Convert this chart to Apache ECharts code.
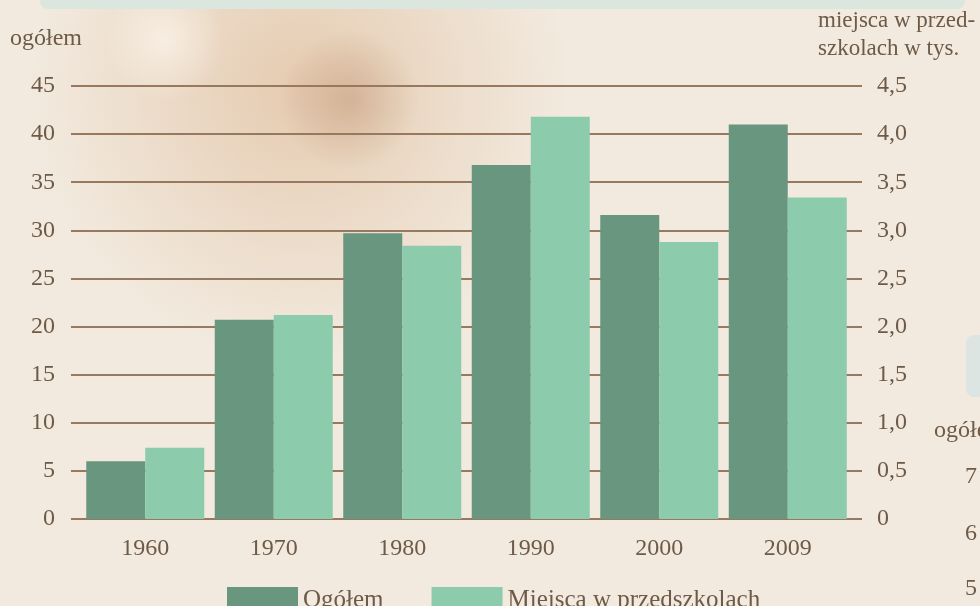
<!DOCTYPE html>
<html>
<head>
<meta charset="utf-8">
<script src="https://cdn.jsdelivr.net/npm/echarts@6/dist/echarts.min.js"></script>
<style>
  html, body { margin: 0; padding: 0; background: #f2eadf; }
  #chart { width: 980px; height: 606px; }
</style>
</head>
<body>
<div id="chart"></div>
<script>
// dane
const years = ['1960', '1970', '1980', '1990', '2000', '2009'];
const ogolem = [6.0, 20.7, 29.7, 36.8, 31.6, 41.0];      // lewa oś
const miejsca = [0.74, 2.12, 2.84, 4.18, 2.88, 3.34];     // prawa oś, w tys.
const leftTicks = { min: 0, max: 45, interval: 5 };
const rightTicks = { min: 0, max: 4.5, interval: 0.5 };

const txt = '#6e5a47';
const lineCol = '#97795f';
const font = 'Liberation Serif';

const chart = echarts.init(document.getElementById('chart'));

const option = {
  backgroundColor: '#f2eadf',
  animation: false,
  textStyle: { fontFamily: font, color: txt },
  graphic: [
    // tło (zdjęcie) - przybliżenie
    { type: 'circle', z: -10, shape: { cx: 300, cy: 90, r: 270 }, style: {
      fill: new echarts.graphic.RadialGradient(0.5, 0.5, 0.5, [
        { offset: 0, color: 'rgba(214,165,120,0.45)' },
        { offset: 1, color: 'rgba(214,165,120,0)' }]) } },
    { type: 'ellipse', z: -9, shape: { cx: 350, cy: 100, rx: 130, ry: 70 }, style: {
      fill: new echarts.graphic.RadialGradient(0.5, 0.5, 0.5, [
        { offset: 0, color: 'rgba(165,110,70,0.3)' },
        { offset: 1, color: 'rgba(165,110,70,0)' }]) } },
    { type: 'ellipse', z: -9, shape: { cx: 165, cy: 40, rx: 150, ry: 60 }, style: {
      fill: new echarts.graphic.RadialGradient(0.5, 0.5, 0.5, [
        { offset: 0, color: 'rgba(255,250,242,0.6)' },
        { offset: 1, color: 'rgba(255,250,242,0)' }]) } },
    { type: 'rect', z: -8, shape: { x: 40, y: -10, width: 925, height: 19, r: 8 }, style: { fill: '#dbe6de' } },
    { type: 'rect', z: -8, shape: { x: 966, y: 335, width: 40, height: 62, r: 8 }, style: { fill: '#dde5e2' } },
    // tytuły osi
    { type: 'text', left: 10, top: 27, style: { text: 'ogółem', font: '24px "Liberation Serif"', fill: txt } },
    { type: 'text', left: 818, top: 7, style: { text: 'miejsca w przed-\nszkolach w tys.', font: '23px "Liberation Serif"', fill: txt, lineHeight: 28 } },
    // fragment sąsiedniego wykresu
    { type: 'text', left: 934, top: 419, style: { text: 'ogółem', font: '24px "Liberation Serif"', fill: txt } },
    { type: 'text', left: 965, top: 465, style: { text: '7', font: '24px "Liberation Serif"', fill: txt } },
    { type: 'text', left: 965, top: 522, style: { text: '6', font: '24px "Liberation Serif"', fill: txt } },
    { type: 'text', left: 965, top: 577, style: { text: '5', font: '24px "Liberation Serif"', fill: txt } }
  ],
  legend: {
    left: 222,
    top: 582,
    itemWidth: 71,
    itemHeight: 26,
    itemGap: 48,
    icon: 'rect',
    textStyle: { fontFamily: font, fontSize: 25, color: txt },
    data: ['Ogółem', 'Miejsca w przedszkolach']
  },
  grid: [
    { left: 71, right: 118, top: 86, bottom: 87 },   // linie siatki
    { left: 81, right: 128, top: 86, bottom: 87 }    // słupki
  ],
  xAxis: [
    { gridIndex: 0, type: 'category', data: years, show: false },
    {
      gridIndex: 1, type: 'category', data: years,
      axisLine: { show: false }, axisTick: { show: false },
      axisLabel: { fontFamily: font, fontSize: 24, color: txt, margin: 18 }
    }
  ],
  yAxis: [
    {
      gridIndex: 0, type: 'value', ...leftTicks,
      axisLine: { show: false }, axisTick: { show: false },
      axisLabel: { fontFamily: font, fontSize: 24, color: txt, margin: 16 },
      splitLine: { lineStyle: { color: lineCol, width: 2 } }
    },
    {
      gridIndex: 0, type: 'value', position: 'right', ...rightTicks,
      axisLine: { show: false }, axisTick: { show: false }, splitLine: { show: false },
      axisLabel: {
        fontFamily: font, fontSize: 24, color: txt, margin: 15,
        formatter: v => v === 0 ? '0' : v.toFixed(1).replace('.', ',')
      }
    },
    { gridIndex: 1, type: 'value', ...leftTicks, show: false },
    { gridIndex: 1, type: 'value', ...rightTicks, show: false }
  ],
  series: [
    {
      name: 'Ogółem', type: 'bar', xAxisIndex: 1, yAxisIndex: 2,
      data: ogolem, barWidth: 59, barGap: 0,
      itemStyle: { color: '#69967e' }
    },
    {
      name: 'Miejsca w przedszkolach', type: 'bar', xAxisIndex: 1, yAxisIndex: 3,
      data: miejsca, barWidth: 59, barGap: 0,
      itemStyle: { color: '#8ccbab' }
    }
  ]
};

chart.setOption(option);
</script>
</body>
</html>
